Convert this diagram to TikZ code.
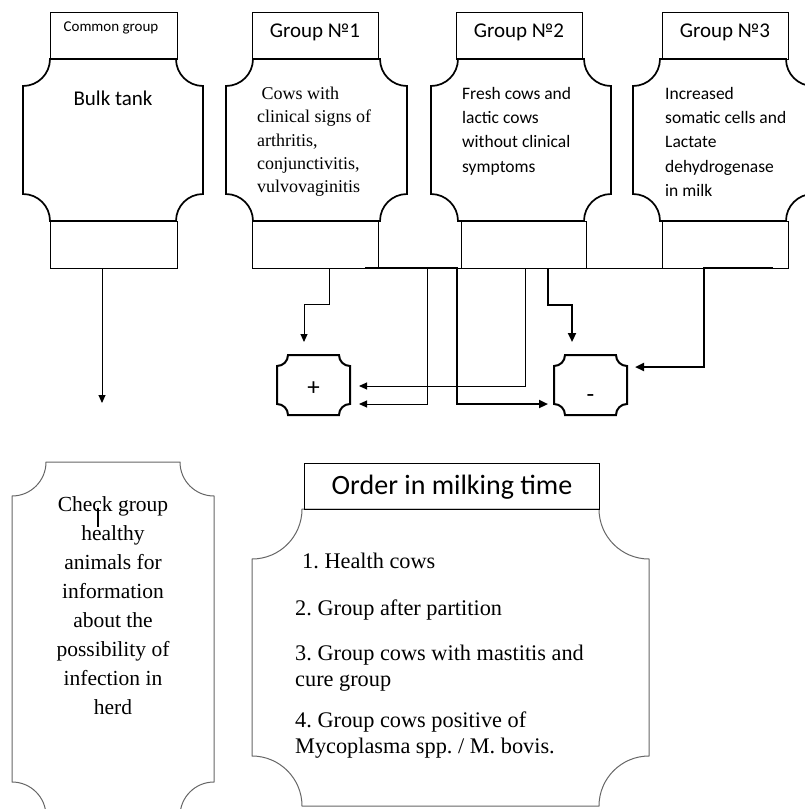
\documentclass[tikz,border=0pt]{standalone}
\usepackage{fontspec}
\setmainfont{Liberation Serif}
\newfontfamily\calib{Carlito}
\usetikzlibrary{calc,arrows.meta}
\frenchspacing
\newcommand\plaqueof[3]{%
 \draw[#3] let \p1=(#1.north west), \p2=(#1.south east), \n1={#2}, \n2={0.5523*#2} in
 ({\x1+\n1},\y1) -- ({\x2-\n1},\y1) .. controls ({\x2-\n1},{\y1-\n2}) and ({\x2-\n2},{\y1-\n1}) .. (\x2,{\y1-\n1})
 -- (\x2,{\y2+\n1}) .. controls ({\x2-\n2},{\y2+\n1}) and ({\x2-\n1},{\y2+\n2}) .. ({\x2-\n1},\y2)
 -- ({\x1+\n1},\y2) .. controls ({\x1+\n1},{\y2+\n2}) and ({\x1+\n2},{\y2+\n1}) .. (\x1,{\y2+\n1})
 -- (\x1,{\y1-\n1}) .. controls ({\x1+\n2},{\y1-\n1}) and ({\x1+\n1},{\y1-\n2}) .. cycle;}
\tikzset{
 hdr/.style={draw, line width=0.9pt, inner sep=0, outer sep=0, minimum height=47pt},
 bodybox/.style={inner sep=0, outer sep=0},
 topline/.style={line width=1.7pt},
 lowline/.style={line width=1pt, draw=black!60},
 smallbox/.style={line width=2pt},
 conn/.style={line width=1pt, -{Triangle[length=8pt,width=7pt]}},
 tconn/.style={line width=2.2pt, -{Triangle[length=9pt,width=8pt]}},
 hdrtext/.style={font=\calib\fontsize{21}{25}\selectfont, inner sep=0},
 sertext/.style={font=\fontsize{18}{23.3}\selectfont, align=left, inner sep=0, anchor=north west},
 santext/.style={font=\calib\fontsize{17.5}{24.3}\selectfont, align=left, inner sep=0, anchor=north west},
 listtext/.style={font=\fontsize{22.3}{25.5}\selectfont, align=left, inner sep=0, anchor=north west},
}
\begin{document}
\begin{tikzpicture}[x=1pt,y=-1pt]
\useasboundingbox (0,0) rectangle (805,809);
% bodies
\node[bodybox, minimum width=180pt, minimum height=162pt] (bC) at (113,140) {};
\node[bodybox, minimum width=181pt, minimum height=162pt] (b1b) at (316.5,140) {};
\node[bodybox, minimum width=180pt, minimum height=162pt] (b2b) at (521,140) {};
\node[bodybox, minimum width=180pt, minimum height=162pt] (b3b) at (723,140) {};
\plaqueof{bC}{27pt}{topline}
\plaqueof{b1b}{27pt}{topline}
\plaqueof{b2b}{27pt}{topline}
\plaqueof{b3b}{27pt}{topline}
% headers
\node[hdr, minimum width=127pt] (hC) at (113.5,35.5) {};
\node[hdr, minimum width=126pt] (h1) at (315,35.5) {};
\node[hdr, minimum width=126pt] (h2) at (519,35.5) {};
\node[hdr, minimum width=126pt] (h3) at (725,35.5) {};
% footers
\node[hdr, minimum width=127pt] (fC) at (113.5,244.5) {};
\node[hdr, minimum width=126pt] (f1) at (315,244.5) {};
\node[hdr, minimum width=125pt] (f2) at (523.5,244.5) {};
\node[hdr, minimum width=126pt] (f3) at (725,244.5) {};
% header texts
\node[font=\calib\fontsize{15}{18}\selectfont, inner sep=0] (tC) at (111,28) {Common group};
\node[hdrtext] (t1) at (315,32) {Group №1};
\node[hdrtext] (t2) at (519,32) {Group №2};
\node[hdrtext] (t3) at (725,32) {Group №3};
\node[hdrtext] (tBulk) at (113,98) {Bulk tank};
% body texts
\node[sertext] (x1) at (257,87) {\ Cows with\\clinical signs of\\arthritis,\\conjunctivitis,\\vulvovaginitis};
\node[santext] (x2) at (462,87) {Fresh cows and\\lactic cows\\without clinical\\symptoms};
\node[santext] (x3) at (665,87) {Increased\\somatic cells and\\Lactate\\dehydrogenase\\in milk};
% plus / minus boxes
\node[bodybox, minimum width=73pt, minimum height=60pt] (plus) at (313.5,385) {};
\node[bodybox, minimum width=73pt, minimum height=60pt] (minus) at (590.5,385) {};
\plaqueof{plus}{11pt}{smallbox}
\plaqueof{minus}{11pt}{smallbox}
\node[font=\calib\fontsize{25}{28}\selectfont, inner sep=0] at (313.5,389) {+};
\node[font=\calib\fontsize{25}{28}\selectfont, inner sep=0] at (590.5,399) {-};
% bottom-left plaque
\node[bodybox, minimum width=202pt, minimum height=354pt] (chk) at (113,639) {};
\plaqueof{chk}{34pt}{lowline}
\node[font=\fontsize{21.5}{29}\selectfont, align=center, inner sep=0, anchor=north] (chkt) at (113,496)
 {Check group\\healthy\\animals for\\information\\about the\\possibility of\\infection in\\herd};
\draw[line width=1.2pt] (98,508) -- (98,527);
% bottom-right plaque
\node[bodybox, minimum width=397pt, minimum height=297pt] (ord) at (450.5,657.5) {};
\plaqueof{ord}{50pt}{lowline}
\node[hdr, minimum width=295pt, minimum height=46pt] (hO) at (451.5,486) {};
\node[font=\calib\fontsize{28}{32}\selectfont, inner sep=0] (tO) at (452,487) {Order in milking time};
\node[listtext] (l1) at (302,553) {1. Health cows};
\node[listtext] (l2) at (295,600) {2. Group after partition};
\node[listtext] (l3) at (295,645) {3. Group cows with mastitis and\\cure group};
\node[listtext] (l4) at (295,712) {4. Group cows positive of\\Mycoplasma spp. / M. bovis.};
% bus
\draw[line width=1pt] (f1.south east) -- (f3.south west);
\coordinate (bt) at (102,268);
\coordinate (btend) at (102,403);
\coordinate (b1) at (329,268);
\coordinate (k1) at (304,304);
\coordinate (b2) at (427,268);
\coordinate (k2) at (427,404);
\coordinate (b3) at (525,268);
\coordinate (k3) at (525,386);
\coordinate (b4s) at (365,268);
\coordinate (b4) at (457,268);
\coordinate (k4) at (457,404);
\coordinate (b5) at (548,268);
\coordinate (k5) at (572,305);
\coordinate (b6s) at (773,268);
\coordinate (b6) at (704,268);
\coordinate (k6) at (704,367);
\draw[conn] (bt) -- (btend);
\draw[conn, shorten >=13pt] (b1) |- (k1) -- (k1 |- plus.north);
\draw[conn, shorten >=9pt] (b2) -- (k2) -- (k2 -| plus.east);
\draw[conn, shorten >=9pt] (b3) -- (k3) -- (k3 -| plus.east);
\draw[tconn, shorten >=6pt] (b4s) -- (b4) -- (k4) -- (k4 -| minus.west);
\draw[tconn, shorten >=13pt] (b5) |- (k5) -- (k5 |- minus.north);
\draw[tconn, shorten >=8pt] (b6s) -- (b6) -- (k6) -- (k6 -| minus.east);
\end{tikzpicture}
\end{document}
